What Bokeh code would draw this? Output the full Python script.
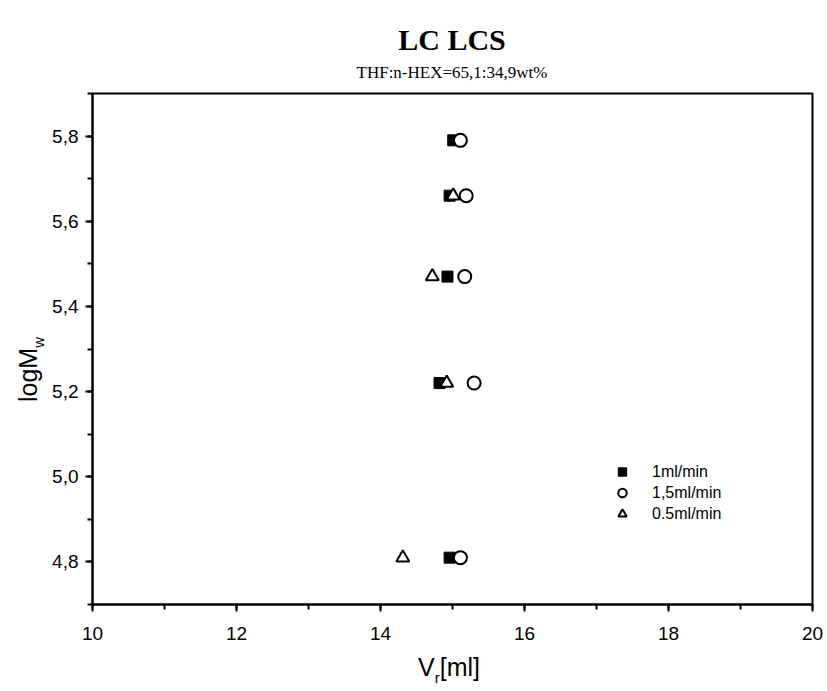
from bokeh.plotting import figure
from bokeh.models import (Range1d, SingleIntervalTicker, CustomJSTickFormatter,
                          Legend, LegendItem, Div)
from bokeh.layouts import column, row
from bokeh.embed import file_html
from bokeh.resources import INLINE

# ---- data ----
logmw_1 = [5.79, 5.66, 5.47, 5.22, 4.81]
vr_1 = [15.01, 14.96, 14.93, 14.82, 14.96]
logmw_15 = [5.79, 5.66, 5.47, 5.22, 4.81]
vr_15 = [15.11, 15.19, 15.17, 15.30, 15.11]
logmw_05 = [5.66, 5.47, 5.22, 4.81]
vr_05 = [15.01, 14.72, 14.92, 14.31]
legend_labels = ["1ml/min", "1,5ml/min", "0.5ml/min"]
title_text = "LC LCS"
subtitle_text = "THF:n-HEX=65,1:34,9wt%"
x_label_main, x_label_sub, x_label_rest = "V", "r", "[ml]"
y_label_main, y_label_sub = "logM", "w"

SANS = "Liberation Sans"
SERIF = "Liberation Serif"

p = figure(width=781, height=566, output_backend="svg", toolbar_location=None,
           x_range=Range1d(10, 20), y_range=Range1d(4.7, 5.9),
           min_border_left=46, min_border_right=15, min_border_top=10, min_border_bottom=45,
           title=None)
p.background_fill_color = "white"
p.border_fill_color = "white"
p.outline_line_color = "black"
p.outline_line_width = 2
p.xgrid.visible = False
p.ygrid.visible = False

p.xaxis.ticker = SingleIntervalTicker(interval=2, num_minor_ticks=2)
p.yaxis.ticker = SingleIntervalTicker(interval=0.2, num_minor_ticks=2)
p.yaxis.formatter = CustomJSTickFormatter(code="return tick.toFixed(1).replace('.', ',');")
for ax in (p.xaxis[0], p.yaxis[0]):
    ax.axis_line_width = 2
    ax.axis_line_color = "black"
    ax.major_tick_line_width = 2
    ax.minor_tick_line_width = 2
    ax.major_tick_in = 0
    ax.major_tick_out = 7
    ax.minor_tick_in = 0
    ax.minor_tick_out = 5
    ax.major_label_text_font = SANS
    ax.major_label_text_font_size = "19px"
    ax.major_label_text_color = "black"
p.xaxis.major_label_standoff = 15
p.yaxis.major_label_standoff = 7

r1 = p.scatter(vr_1, logmw_1, marker="square", size=11, fill_color="black", line_color="black")
r3 = p.scatter(vr_05, logmw_05, marker="triangle", size=13, fill_color="white",
               line_color="black", line_width=2)
r2 = p.scatter(vr_15, logmw_15, marker="circle", size=13, fill_color="white",
               line_color="black", line_width=2)

legend = Legend(items=[LegendItem(label=legend_labels[0], renderers=[r1]),
                       LegendItem(label=legend_labels[1], renderers=[r2]),
                       LegendItem(label=legend_labels[2], renderers=[r3])],
                location=(515, 80), border_line_color=None, background_fill_alpha=0,
                label_text_font=SANS, label_text_font_size="16px", label_text_color="black",
                label_standoff=15, glyph_width=30, glyph_height=21, label_height=21,
                spacing=0, padding=0, margin=0)
p.add_layout(legend, "center")

title_html = (
    '<div style="position:relative;width:827px;height:83px;">'
    f'<div style="position:absolute;left:302px;top:25px;width:300px;text-align:center;'
    f'white-space:nowrap;font-family:\'{SERIF}\';font-weight:bold;font-size:30px;'
    f'line-height:30px;color:black;">{title_text}</div>'
    f'<div style="position:absolute;left:252px;top:64px;width:400px;text-align:center;'
    f'white-space:nowrap;font-family:\'{SERIF}\';font-size:17px;line-height:17px;'
    f'color:black;">{subtitle_text}</div></div>'
)
title_div = Div(text=title_html, width=827, height=83, margin=0)

ylabel_html = (
    '<div style="position:relative;width:46px;height:566px;">'
    f'<div style="position:absolute;left:16px;top:319px;transform-origin:0 0;'
    f'transform:rotate(-90deg);white-space:nowrap;font-family:\'{SANS}\';font-size:25px;'
    f'line-height:25px;color:black;">{y_label_main}<span style="font-size:15px;'
    f'vertical-align:-7px;">{y_label_sub}</span></div></div>'
)
ylabel_div = Div(text=ylabel_html, width=46, height=566, margin=0)

xlabel_html = (
    '<div style="position:relative;width:827px;height:42px;">'
    f'<div style="position:absolute;left:418px;top:6px;white-space:nowrap;'
    f'font-family:\'{SANS}\';font-size:25px;line-height:25px;color:black;">{x_label_main}'
    f'<span style="font-size:15px;vertical-align:-7px;">{x_label_sub}</span>{x_label_rest}'
    '</div></div>'
)
xlabel_div = Div(text=xlabel_html, width=827, height=42, margin=0)

layout = column(title_div, row(ylabel_div, p, spacing=0), xlabel_div, spacing=0)

open("out.html", "w").write(file_html(layout, INLINE))
